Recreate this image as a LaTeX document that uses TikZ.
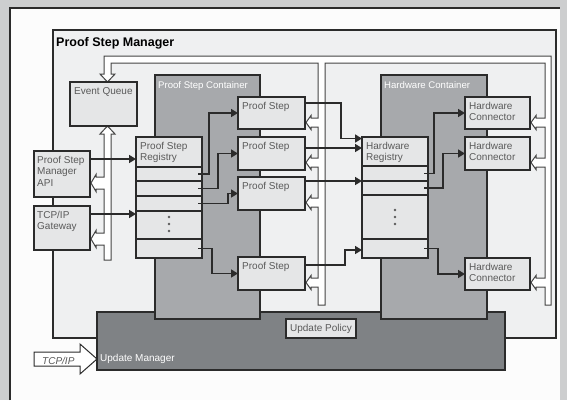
\documentclass[tikz,border=0pt]{standalone}
\usepackage{fontspec}
\setmainfont{Liberation Sans}
\usetikzlibrary{arrows.meta}
\definecolor{bgc}{HTML}{CDCECF}
\definecolor{panel}{HTML}{FCFCFC}
\definecolor{psmfill}{HTML}{EFF0F1}
\definecolor{boxfill}{HTML}{E5E6E7}
\definecolor{contfill}{HTML}{A7A9AC}
\definecolor{umfill}{HTML}{7F8285}
\definecolor{ink}{HTML}{2B2B2B}
\definecolor{txt}{HTML}{5A5A5A}
\definecolor{pipeink}{HTML}{444444}
\tikzset{
  box/.style={draw=ink, line width=1.6pt, fill=boxfill, anchor=north west, inner sep=0pt, outer sep=0pt},
  cont/.style={box, fill=contfill},
  lbl/.style={anchor=north west, inner sep=0pt, align=left, text=txt, font=\fontsize{10}{11.5}\selectfont},
  wlbl/.style={anchor=base west, inner sep=0pt, text=white, font=\fontsize{9.6}{11}\selectfont},
  rowline/.style={draw=ink, line width=1.5pt},
  conn/.style={draw=ink, line width=1.6pt, -{Triangle[length=7pt,width=8pt]}},
  pipe/.style={draw=pipeink, line width=1pt, fill=white, line join=miter},
  dot/.style={fill=txt}
}
\begin{document}
\begin{tikzpicture}[x=1pt,y=-1pt]
\useasboundingbox (0,0) rectangle (567,400);
% background and panel
\fill[bgc] (0,0) rectangle (567,400);
\fill[panel] (10,8) rectangle (560,400);
\draw[ink, line width=1.6pt] (10,400) -- (10,8) -- (560,8);
% Proof Step Manager
\node[box, fill=psmfill, minimum width=503pt, minimum height=308pt] (psm) at (53,30) {};
\node[anchor=base west, inner sep=0pt, font=\bfseries\fontsize{12.5}{14}\selectfont] (psmt) at (56,46) {Proof Step Manager};
% event pipe (top) with teeth
\draw[pipe] (104,74) -- (104,56) -- (551,56) -- (551,305) -- (545,305)
  -- (545,287) -- (536,287) -- (536,289.5) -- (531,282.5) -- (536,275.5) -- (536,278) -- (545,278)
  -- (545,167) -- (536,167) -- (536,169.5) -- (531,162.5) -- (536,155.5) -- (536,158) -- (545,158)
  -- (545,127) -- (536,127) -- (536,129.5) -- (531,122.5) -- (536,115.5) -- (536,118) -- (545,118)
  -- (545,63) -- (325,63) -- (325,305) -- (318,305)
  -- (318,287) -- (311,287) -- (311,289.5) -- (306,282.5) -- (311,275.5) -- (311,278) -- (318,278)
  -- (318,207) -- (311,207) -- (311,209.5) -- (306,202.5) -- (311,195.5) -- (311,198) -- (318,198)
  -- (318,167) -- (311,167) -- (311,169.5) -- (306,162.5) -- (311,155.5) -- (311,158) -- (318,158)
  -- (318,127) -- (311,127) -- (311,129.5) -- (306,122.5) -- (311,115.5) -- (311,118) -- (318,118)
  -- (318,63) -- (111,63) -- (111,74) -- (115,74) -- (107.5,82) -- (100,74) -- cycle;
% event pipe (bottom-left)
\draw[pipe] (104,134) -- (104,177) -- (96,177) -- (96,174.5) -- (91,183) -- (96,191.5) -- (96,189) -- (104,189)
  -- (104,233) -- (96,233) -- (96,230.5) -- (91,239) -- (96,247.5) -- (96,245) -- (104,245)
  -- (104,260) -- (111,260) -- (111,134) -- (115,134) -- (107.5,126) -- (100,134) -- cycle;
% Update Manager
\node[box, fill=umfill, minimum width=408pt, minimum height=58pt] (um) at (97,312) {};
\node[wlbl, font=\fontsize{10}{12}\selectfont] (umt) at (100,361) {Update Manager};
\node[box, minimum width=70pt, minimum height=19pt] (up) at (286,319) {};
\node[text=txt, inner sep=0pt, font=\fontsize{10}{12}\selectfont] (upt) at (up.center) {Update Policy};
% containers
\node[cont, minimum width=105pt, minimum height=244pt] (psc) at (155,75) {};
\node[wlbl] (psct) at (158,88) {Proof Step Container};
\node[cont, minimum width=106pt, minimum height=244pt] (hwc) at (381,75) {};
\node[wlbl] (hwct) at (384,88) {Hardware Container};
% TCP/IP input arrow
\draw[draw=ink, line width=1pt, fill=white] (34,352) -- (80,352) -- (80,344) -- (97,359) -- (80,374) -- (80,366) -- (34,366) -- cycle;
\node[anchor=base west, inner sep=0pt, text=txt, font=\itshape\fontsize{10}{12}\selectfont] (tcpin) at (42,364) {TCP/IP};
% boxes
\node[box, minimum width=67pt, minimum height=44pt] (eq) at (70,82) {};
\node[lbl] (eqt) at ([shift={(4pt,-5pt)}]eq.north west) {Event Queue};
\node[box, minimum width=56pt, minimum height=46pt] (api) at (34,151) {};
\node[lbl] (apit) at ([shift={(3pt,-5pt)}]api.north west) {Proof Step\\Manager\\API};
\node[box, minimum width=56pt, minimum height=44pt] (tcp) at (34,206) {};
\node[lbl] (tcpt) at ([shift={(3pt,-5pt)}]tcp.north west) {TCP/IP\\Gateway};
% Proof step registry
\node[box, minimum width=66pt, minimum height=121pt] (psr) at (136,137) {};
\node[lbl] (psrt) at ([shift={(4pt,-5pt)}]psr.north west) {Proof Step\\Registry};
\draw[rowline] (136,167) -- (202,167) (136,181) -- (202,181) (136,196) -- (202,196) (136,211) -- (202,211) (136,239) -- (202,239);
\fill[dot] (169,217) circle (1.3) (169,224) circle (1.3) (169,231) circle (1.3);
% proof steps
\node[box, minimum width=67pt, minimum height=32pt] (ps1) at (238,97) {};
\node[lbl] (ps1t) at ([shift={(4pt,-5pt)}]ps1.north west) {Proof Step};
\node[box, minimum width=67pt, minimum height=33pt] (ps2) at (238,137) {};
\node[lbl] (ps2t) at ([shift={(4pt,-5pt)}]ps2.north west) {Proof Step};
\node[box, minimum width=67pt, minimum height=33pt] (ps3) at (238,177) {};
\node[lbl] (ps3t) at ([shift={(4pt,-5pt)}]ps3.north west) {Proof Step};
\node[box, minimum width=67pt, minimum height=33pt] (ps4) at (238,257) {};
\node[lbl] (ps4t) at ([shift={(4pt,-5pt)}]ps4.north west) {Proof Step};
% hardware registry
\node[box, minimum width=66pt, minimum height=121pt] (hwr) at (362,137) {};
\node[lbl] (hwrt) at ([shift={(4pt,-5pt)}]hwr.north west) {Hardware\\Registry};
\draw[rowline] (362,166) -- (428,166) (362,181) -- (428,181) (362,195) -- (428,195) (362,239) -- (428,239);
\fill[dot] (395,210) circle (1.3) (395,217) circle (1.3) (395,224) circle (1.3);
% hardware connectors
\node[box, minimum width=65pt, minimum height=32pt] (hc1) at (465,97) {};
\node[lbl] (hc1t) at ([shift={(4pt,-5pt)}]hc1.north west) {Hardware\\Connector};
\node[box, minimum width=65pt, minimum height=33pt] (hc2) at (465,137) {};
\node[lbl] (hc2t) at ([shift={(4pt,-5pt)}]hc2.north west) {Hardware\\Connector};
\node[box, minimum width=65pt, minimum height=32pt] (hc3) at (465,258) {};
\node[lbl] (hc3t) at ([shift={(4pt,-5pt)}]hc3.north west) {Hardware\\Connector};
% connectors: API / gateway -> registry
\coordinate (a1) at (90,159);
\coordinate (a2) at (90,214);
\draw[conn] (a1) -- (a1 -| psr.west);
\draw[conn] (a2) -- (a2 -| psr.west);
% registry rows -> proof steps
\coordinate (r1) at (198,174);
\coordinate (r2) at (198,188.5);
\coordinate (r3) at (198,203.5);
\coordinate (r4) at (198,248.5);
\draw[conn] (r1) -- ++(11,0) |- (ps1.west);
\draw[conn] (r2) -- ++(20,0) |- (ps2.west);
\draw[conn] (r3) -- ++(30,0) |- (ps3.west);
\draw[conn] (r4) -- ++(14,0) |- (ps4.west);
% proof steps -> hardware registry
\coordinate (p1) at ([yshift=10pt]ps1.east);
\coordinate (p2) at ([yshift=5.5pt]ps2.east);
\coordinate (p3) at ([yshift=12.5pt]ps3.east);
\coordinate (p4) at ([yshift=8.5pt]ps4.east);
\coordinate (h1in) at (362,138.5);
\coordinate (h4in) at (362,250);
\draw[conn] (p1) -- ++(36,0) |- (h1in);
\draw[conn] (p2) -- (p2 -| hwr.west);
\draw[conn] (p3) -- (p3 -| hwr.west);
\draw[conn] (p4) -- ++(40,0) |- (h4in);
% hardware registry rows -> connectors
\coordinate (s1) at (424,173.5);
\coordinate (s2) at (424,188);
\coordinate (s3) at (424,248.5);
\draw[conn] (s1) -- ++(10,0) |- (hc1.west);
\draw[conn] (s2) -- ++(19,0) |- (hc2.west);
\draw[conn] (s3) -- ++(14,0) |- (hc3.west);
\end{tikzpicture}
\end{document}
